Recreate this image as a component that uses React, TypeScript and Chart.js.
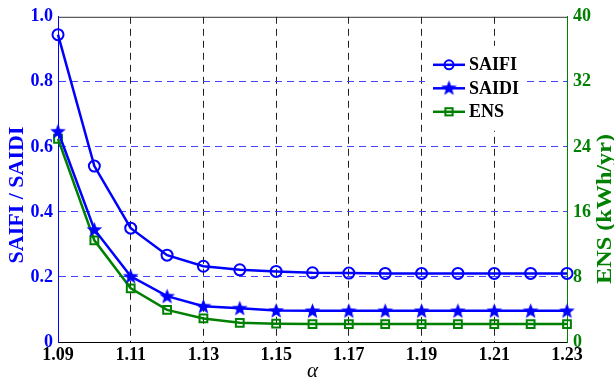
import React, { useEffect, useRef } from 'react';
import { Chart, registerables } from 'chart.js';

Chart.register(...registerables);

// Reliability indices versus alpha
const alphaValues = [1.09, 1.10, 1.11, 1.12, 1.13, 1.14, 1.15, 1.16, 1.17, 1.18, 1.19, 1.20, 1.21, 1.22, 1.23];
const saifiValues = [0.945, 0.541, 0.350, 0.267, 0.233, 0.222, 0.217, 0.213, 0.212, 0.211, 0.211, 0.211, 0.211, 0.211, 0.211];
const saidiValues = [0.648, 0.346, 0.202, 0.141, 0.110, 0.104, 0.097, 0.096, 0.096, 0.096, 0.096, 0.096, 0.096, 0.096, 0.096];
const ensValues = [25.0, 12.5, 6.6, 3.95, 2.9, 2.36, 2.25, 2.2, 2.2, 2.2, 2.2, 2.2, 2.2, 2.2, 2.2];

const xTickValues = [1.09, 1.11, 1.13, 1.15, 1.17, 1.19, 1.21, 1.23];
const xTickLabels = ['1.09', '1.11', '1.13', '1.15', '1.17', '1.19', '1.21', '1.23'];
const leftTickValues = [0, 0.2, 0.4, 0.6, 0.8, 1.0];
const leftTickLabels = ['0', '0.2', '0.4', '0.6', '0.8', '1.0'];
const rightTickValues = [0, 8, 16, 24, 32, 40];
const rightTickLabels = ['0', '8', '16', '24', '32', '40'];

const seriesNames = ['SAIFI', 'SAIDI', 'ENS'];
const leftTitle = 'SAIFI / SAIDI';
const rightTitle = 'ENS (kWh/yr)';
const xTitle = 'α';

const BLUE = '#0000ff';
const GREEN = '#008000';
const FONT = "'Liberation Serif', 'Times New Roman', serif";

function makeStar(color: string, size: number): HTMLCanvasElement {
  const c = document.createElement('canvas');
  c.width = size;
  c.height = size;
  const g = c.getContext('2d') as CanvasRenderingContext2D;
  const cx = size / 2;
  const cy = size / 2 + 0.6;
  const R = size / 2 - 0.3;
  const r = R * 0.42;
  g.beginPath();
  for (let i = 0; i < 10; i++) {
    const ang = -Math.PI / 2 + (i * Math.PI) / 5;
    const rad = i % 2 === 0 ? R : r;
    g.lineTo(cx + rad * Math.cos(ang), cy + rad * Math.sin(ang));
  }
  g.closePath();
  g.fillStyle = color;
  g.fill();
  return c;
}

export default function App() {
  const canvasRef = useRef<HTMLCanvasElement | null>(null);

  useEffect(() => {
    const canvas = canvasRef.current;
    if (!canvas) return;
    const star = makeStar(BLUE, 17);

    const toPoints = (ys: number[]) => alphaValues.map((x, i) => ({ x, y: ys[i] }));

    const decorations = {
      id: 'decorations',
      afterDatasetsDraw(chart: any) {
        const { ctx, chartArea: a } = chart;
        ctx.save();

        // top frame line
        ctx.strokeStyle = '#333333';
        ctx.lineWidth = 1;
        ctx.setLineDash([]);
        ctx.beginPath();
        ctx.moveTo(a.left, a.top + 0.5);
        ctx.lineTo(a.right, a.top + 0.5);
        ctx.stroke();

        // legend
        const lx = a.right - 134;
        const ly = a.top + 48;
        const gap = 23.5;
        ctx.fillStyle = '#ffffff';
        ctx.fillRect(lx - 8, ly - 19, 102, 85);
        const colors = [BLUE, BLUE, GREEN];
        ctx.font = `bold 18px ${FONT}`;
        ctx.textBaseline = 'middle';
        ctx.textAlign = 'left';
        seriesNames.forEach((name, i) => {
          const y = ly + i * gap;
          ctx.strokeStyle = colors[i];
          ctx.lineWidth = 2.5;
          ctx.beginPath();
          ctx.moveTo(lx, y);
          ctx.lineTo(lx + 32, y);
          ctx.stroke();
          const mx = lx + 16;
          ctx.lineWidth = 2;
          if (i === 0) {
            ctx.beginPath();
            ctx.arc(mx, y, 4.5, 0, Math.PI * 2);
            ctx.stroke();
          } else if (i === 1) {
            ctx.drawImage(star, mx - 8.5, y - 9);
          } else {
            ctx.strokeRect(mx - 3.6, y - 3.6, 7.2, 7.2);
          }
          ctx.fillStyle = '#000000';
          ctx.fillText(name, lx + 36, y + 1);
        });

        // axis titles
        ctx.font = `bold 22px ${FONT}`;
        ctx.textAlign = 'center';
        ctx.textBaseline = 'middle';
        ctx.fillStyle = BLUE;
        ctx.save();
        ctx.translate(17, 195);
        ctx.rotate(-Math.PI / 2);
        ctx.fillText(leftTitle, 0, 0);
        ctx.restore();

        ctx.fillStyle = GREEN;
        ctx.save();
        ctx.translate(chart.width - 9, 209);
        ctx.rotate(-Math.PI / 2);
        ctx.scale(1.1, 1);
        ctx.fillText(rightTitle, 0, 0);
        ctx.restore();

        ctx.fillStyle = '#000000';
        ctx.font = `italic 21px ${FONT}`;
        ctx.textBaseline = 'alphabetic';
        ctx.fillText(xTitle, (a.left + a.right) / 2, chart.height - 2);

        ctx.restore();
      },
    };

    const hideEnds = (lo: number, hi: number, color: string) => (c: any) => {
      const v = c.tick ? c.tick.value : NaN;
      return Math.abs(v - lo) < 1e-9 || Math.abs(v - hi) < 1e-9 ? 'rgba(0,0,0,0)' : color;
    };

    const chart = new Chart(canvas, {
      type: 'line',
      data: {
        datasets: [
          {
            label: seriesNames[0],
            data: toPoints(saifiValues),
            yAxisID: 'y',
            borderColor: BLUE,
            borderWidth: 2.5,
            backgroundColor: 'rgba(0,0,0,0)',
            pointStyle: 'circle',
            pointRadius: 5.5,
            pointBorderWidth: 2,
            pointBorderColor: BLUE,
            pointBackgroundColor: 'rgba(0,0,0,0)',
            tension: 0,
            clip: false,
          },
          {
            label: seriesNames[1],
            data: toPoints(saidiValues),
            yAxisID: 'y',
            borderColor: BLUE,
            borderWidth: 2.5,
            backgroundColor: BLUE,
            pointStyle: star,
            pointRadius: 7,
            tension: 0,
            clip: false,
          },
          {
            label: seriesNames[2],
            data: toPoints(ensValues),
            yAxisID: 'y1',
            borderColor: GREEN,
            borderWidth: 2.5,
            backgroundColor: 'rgba(0,0,0,0)',
            pointStyle: 'rect',
            pointRadius: 5.5,
            pointBorderWidth: 2,
            pointBorderColor: GREEN,
            pointBackgroundColor: 'rgba(0,0,0,0)',
            tension: 0,
            clip: false,
          },
        ],
      },
      options: {
        animation: false,
        responsive: false,
        devicePixelRatio: 1,
        layout: { padding: { top: 15, left: 0, right: 0, bottom: 0 } },
        plugins: {
          legend: { display: false },
          tooltip: { enabled: false },
        },
        font: { family: FONT },
        scales: {
          x: {
            type: 'linear',
            min: 1.09,
            max: 1.23,
            afterBuildTicks: (s: any) => {
              s.ticks = xTickValues.map((value) => ({ value }));
            },
            afterFit: (s: any) => {
              s.height = 37;
            },
            ticks: {
              color: '#000000',
              font: { family: FONT, size: 18, weight: 'bold' },
              padding: 3,
              maxRotation: 0,
              autoSkip: false,
              callback: (_v: any, i: number) => xTickLabels[i],
            },
            grid: {
              color: hideEnds(1.09, 1.23, '#222222'),
              lineWidth: 1,
              drawTicks: false,
            },
            border: { display: true, color: '#000000', width: 1, dash: [7, 5] },
          },
          y: {
            type: 'linear',
            position: 'left',
            min: 0,
            max: 1,
            afterBuildTicks: (s: any) => {
              s.ticks = leftTickValues.map((value) => ({ value }));
            },
            afterFit: (s: any) => {
              s.width = 58;
            },
            ticks: {
              color: BLUE,
              font: { family: FONT, size: 18, weight: 'bold' },
              padding: 5,
              autoSkip: false,
              callback: (_v: any, i: number) => leftTickLabels[i],
            },
            grid: {
              color: hideEnds(0, 1, '#4444ff'),
              lineWidth: 1,
              drawTicks: false,
            },
            border: { display: true, color: BLUE, width: 1, dash: [7, 5] },
          },
          y1: {
            type: 'linear',
            position: 'right',
            min: 0,
            max: 40,
            afterBuildTicks: (s: any) => {
              s.ticks = rightTickValues.map((value) => ({ value }));
            },
            afterFit: (s: any) => {
              s.width = 47;
            },
            ticks: {
              color: GREEN,
              font: { family: FONT, size: 18, weight: 'bold' },
              padding: 6,
              autoSkip: false,
              callback: (_v: any, i: number) => rightTickLabels[i],
            },
            grid: { drawOnChartArea: false, drawTicks: false },
            border: { display: true, color: GREEN, width: 1 },
          },
        },
      },
      plugins: [decorations],
    } as any);

    return () => {
      chart.destroy();
    };
  }, []);

  return (
    <div style={{ position: 'fixed', left: 0, top: 0, width: 614, height: 379, background: '#ffffff' }}>
      <canvas ref={canvasRef} width={614} height={379} />
    </div>
  );
}
